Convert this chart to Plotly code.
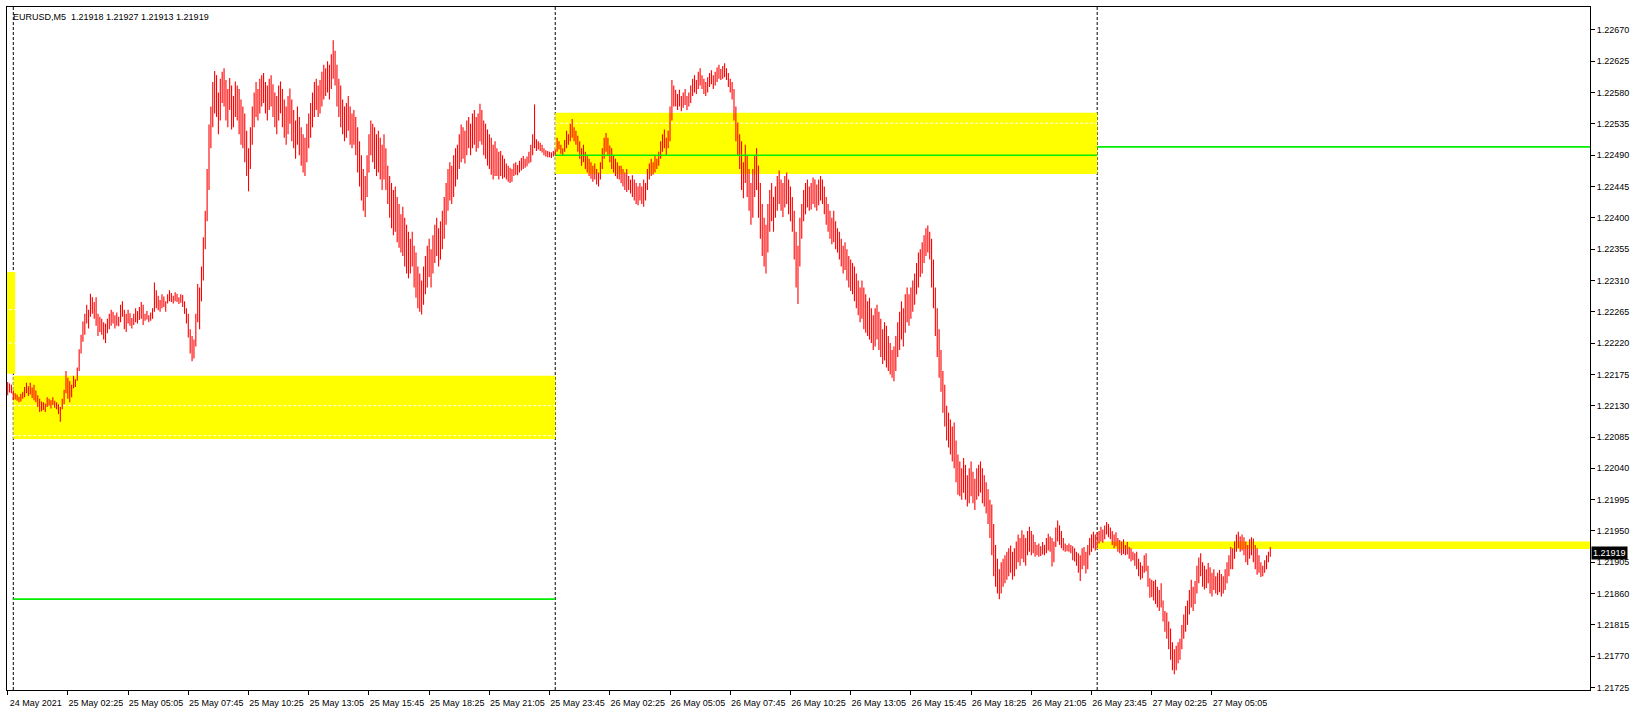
import plotly.graph_objects as go

symbol_title = "EURUSD,M5  1.21918 1.21927 1.21913 1.21919"
last_price = 1.21919

# M5 bars, index 0 = 24 May 23:45 (highs / lows)
bar_high = [
1.22164,1.22162,1.22160,1.22152,1.22148,1.22146,1.22143,1.22147,
1.22150,1.22157,1.22163,1.22158,1.22163,1.22156,1.22160,1.22152,
1.22145,1.22140,1.22136,1.22135,1.22133,1.22142,1.22140,1.22138,
1.22142,1.22137,1.22135,1.22132,1.22128,1.22140,1.22153,1.22180,
1.22170,1.22165,1.22160,1.22173,1.22168,1.22185,1.22211,1.22232,
1.22251,1.22262,1.22275,1.22268,1.22291,1.22286,1.22279,1.22286,
1.22262,1.22258,1.22255,1.22250,1.22248,1.22255,1.22262,1.22268,
1.22265,1.22260,1.22264,1.22258,1.22275,1.22280,1.22268,1.22262,
1.22268,1.22263,1.22256,1.22262,1.22270,1.22266,1.22272,1.22279,
1.22275,1.22262,1.22266,1.22260,1.22264,1.22270,1.22307,1.22296,
1.22288,1.22282,1.22290,1.22287,1.22280,1.22290,1.22296,1.22292,
1.22288,1.22293,1.22291,1.22286,1.22290,1.22289,1.22280,1.22270,
1.22262,1.22240,1.22230,1.22225,1.22262,1.22305,1.22300,1.22330,
1.22372,1.22410,1.22470,1.22534,1.22560,1.22595,1.22611,1.22605,
1.22580,1.22600,1.22610,1.22615,1.22598,1.22585,1.22601,1.22590,
1.22575,1.22596,1.22590,1.22585,1.22570,1.22560,1.22550,1.22525,
1.22500,1.22530,1.22560,1.22580,1.22595,1.22585,1.22600,1.22605,
1.22608,1.22595,1.22590,1.22600,1.22605,1.22592,1.22580,1.22575,
1.22590,1.22596,1.22585,1.22570,1.22560,1.22575,1.22586,1.22570,
1.22555,1.22540,1.22560,1.22545,1.22530,1.22520,1.22515,1.22535,
1.22550,1.22565,1.22580,1.22595,1.22600,1.22590,1.22598,1.22610,
1.22620,1.22615,1.22625,1.22620,1.22635,1.22655,1.22640,1.22620,
1.22600,1.22590,1.22570,1.22560,1.22565,1.22575,1.22560,1.22550,
1.22555,1.22545,1.22530,1.22510,1.22490,1.22470,1.22460,1.22490,
1.22520,1.22540,1.22535,1.22530,1.22520,1.22525,1.22515,1.22505,
1.22520,1.22500,1.22475,1.22460,1.22450,1.22440,1.22445,1.22430,
1.22420,1.22405,1.22416,1.22400,1.22390,1.22380,1.22370,1.22380,
1.22360,1.22350,1.22330,1.22320,1.22310,1.22330,1.22345,1.22360,
1.22370,1.22355,1.22375,1.22390,1.22400,1.22385,1.22395,1.22410,
1.22430,1.22450,1.22470,1.22480,1.22475,1.22490,1.22500,1.22505,
1.22520,1.22534,1.22530,1.22525,1.22540,1.22545,1.22535,1.22550,
1.22555,1.22545,1.22550,1.22564,1.22555,1.22540,1.22535,1.22527,
1.22520,1.22515,1.22505,1.22510,1.22500,1.22495,1.22496,1.22490,
1.22485,1.22478,1.22475,1.22472,1.22470,1.22478,1.22480,1.22476,
1.22482,1.22486,1.22489,1.22485,1.22488,1.22495,1.22505,1.22520,
1.22563,1.22513,1.22510,1.22508,1.22505,1.22500,1.22497,1.22496,
1.22495,1.22494,1.22496,1.22498,1.22515,1.22510,1.22505,1.22500,
1.22512,1.22525,1.22520,1.22535,1.22542,1.22530,1.22525,1.22518,
1.22510,1.22500,1.22505,1.22495,1.22489,1.22485,1.22480,1.22475,
1.22478,1.22470,1.22465,1.22480,1.22500,1.22515,1.22522,1.22515,
1.22504,1.22500,1.22490,1.22485,1.22480,1.22475,1.22475,1.22470,
1.22465,1.22470,1.22460,1.22455,1.22461,1.22455,1.22450,1.22445,
1.22450,1.22445,1.22455,1.22450,1.22470,1.22478,1.22485,1.22480,
1.22489,1.22485,1.22495,1.22510,1.22520,1.22527,1.22515,1.22525,
1.22560,1.22598,1.22590,1.22584,1.22578,1.22584,1.22575,1.22580,
1.22585,1.22575,1.22580,1.22590,1.22600,1.22605,1.22598,1.22610,
1.22615,1.22605,1.22600,1.22595,1.22602,1.22608,1.22612,1.22605,
1.22610,1.22616,1.22620,1.22614,1.22618,1.22622,1.22615,1.22608,
1.22600,1.22595,1.22585,1.22560,1.22537,1.22520,1.22510,1.22480,
1.22505,1.22490,1.22470,1.22450,1.22470,1.22490,1.22500,1.22475,
1.22450,1.22420,1.22400,1.22390,1.22420,1.22440,1.22450,1.22430,
1.22445,1.22460,1.22468,1.22455,1.22450,1.22460,1.22465,1.22455,
1.22445,1.22430,1.22410,1.22380,1.22360,1.22400,1.22420,1.22440,
1.22450,1.22455,1.22445,1.22450,1.22458,1.22455,1.22448,1.22455,
1.22460,1.22455,1.22445,1.22430,1.22420,1.22410,1.22400,1.22410,
1.22395,1.22385,1.22380,1.22370,1.22360,1.22365,1.22355,1.22345,
1.22340,1.22335,1.22330,1.22320,1.22310,1.22300,1.22310,1.22300,
1.22290,1.22280,1.22285,1.22270,1.22260,1.22270,1.22275,1.22265,
1.22255,1.22240,1.22250,1.22245,1.22230,1.22220,1.22210,1.22215,
1.22230,1.22250,1.22265,1.22280,1.22270,1.22290,1.22300,1.22290,
1.22300,1.22310,1.22320,1.22335,1.22350,1.22355,1.22365,1.22375,
1.22385,1.22389,1.22380,1.22370,1.22340,1.22300,1.22270,1.22240,
1.22210,1.22180,1.22160,1.22130,1.22120,1.22110,1.22100,1.22106,
1.22080,1.22060,1.22050,1.22040,1.22055,1.22045,1.22030,1.22040,
1.22050,1.22035,1.22025,1.22040,1.22045,1.22050,1.22040,1.22030,
1.22020,1.22010,1.21995,1.21988,1.21960,1.21930,1.21910,1.21895,
1.21905,1.21910,1.21915,1.21920,1.21925,1.21929,1.21920,1.21925,
1.21935,1.21945,1.21940,1.21951,1.21945,1.21940,1.21950,1.21956,
1.21950,1.21945,1.21934,1.21930,1.21932,1.21928,1.21934,1.21930,
1.21940,1.21946,1.21942,1.21940,1.21935,1.21955,1.21965,1.21958,
1.21950,1.21940,1.21932,1.21930,1.21932,1.21930,1.21928,1.21925,
1.21920,1.21918,1.21915,1.21925,1.21927,1.21920,1.21930,1.21940,
1.21945,1.21949,1.21945,1.21948,1.21950,1.21956,1.21952,1.21958,
1.21963,1.21960,1.21955,1.21950,1.21945,1.21948,1.21940,1.21937,
1.21935,1.21938,1.21930,1.21934,1.21927,1.21925,1.21920,1.21918,
1.21920,1.21910,1.21905,1.21900,1.21915,1.21918,1.21900,1.21882,
1.21880,1.21878,1.21880,1.21870,1.21865,1.21875,1.21850,1.21835,
1.21833,1.21820,1.21810,1.21790,1.21780,1.21785,1.21790,1.21795,
1.21815,1.21830,1.21842,1.21850,1.21865,1.21880,1.21870,1.21878,
1.21900,1.21912,1.21918,1.21905,1.21900,1.21895,1.21904,1.21898,
1.21890,1.21895,1.21885,1.21890,1.21894,1.21888,1.21885,1.21895,
1.21905,1.21915,1.21927,1.21925,1.21935,1.21945,1.21949,1.21942,
1.21945,1.21941,1.21935,1.21930,1.21938,1.21941,1.21939,1.21930,
1.21925,1.21915,1.21905,1.21900,1.21908,1.21915,1.21920,1.21927,
]
bar_low = [
1.22145,1.22149,1.22148,1.22138,1.22139,1.22137,1.22135,1.22136,
1.22140,1.22142,1.22148,1.22144,1.22146,1.22141,1.22138,1.22135,
1.22128,1.22121,1.22122,1.22124,1.22121,1.22128,1.22130,1.22126,
1.22131,1.22127,1.22125,1.22118,1.22107,1.22125,1.22132,1.22148,
1.22140,1.22135,1.22142,1.22155,1.22157,1.22166,1.22180,1.22205,
1.22222,1.22232,1.22248,1.22241,1.22258,1.22262,1.22255,1.22245,
1.22230,1.22236,1.22232,1.22225,1.22220,1.22234,1.22240,1.22245,
1.22248,1.22241,1.22245,1.22244,1.22250,1.22258,1.22240,1.22236,
1.22248,1.22245,1.22241,1.22246,1.22250,1.22248,1.22253,1.22255,
1.22246,1.22252,1.22254,1.22250,1.22252,1.22255,1.22265,1.22270,
1.22267,1.22265,1.22270,1.22272,1.22265,1.22277,1.22280,1.22279,
1.22277,1.22280,1.22279,1.22276,1.22278,1.22272,1.22262,1.22248,
1.22228,1.22205,1.22194,1.22198,1.22215,1.22250,1.22240,1.22280,
1.22310,1.22355,1.22395,1.22440,1.22500,1.22530,1.22550,1.22545,
1.22520,1.22540,1.22565,1.22560,1.22540,1.22530,1.22555,1.22527,
1.22530,1.22545,1.22540,1.22520,1.22505,1.22500,1.22480,1.22460,
1.22438,1.22470,1.22505,1.22530,1.22545,1.22540,1.22550,1.22560,
1.22565,1.22550,1.22540,1.22555,1.22560,1.22545,1.22530,1.22520,
1.22540,1.22550,1.22530,1.22515,1.22505,1.22520,1.22535,1.22510,
1.22500,1.22485,1.22505,1.22490,1.22475,1.22465,1.22460,1.22480,
1.22500,1.22515,1.22530,1.22545,1.22555,1.22545,1.22550,1.22560,
1.22570,1.22575,1.22580,1.22570,1.22585,1.22600,1.22590,1.22560,
1.22545,1.22530,1.22520,1.22510,1.22515,1.22525,1.22505,1.22500,
1.22505,1.22490,1.22465,1.22445,1.22425,1.22410,1.22401,1.22430,
1.22465,1.22490,1.22480,1.22470,1.22460,1.22465,1.22455,1.22440,
1.22455,1.22440,1.22420,1.22400,1.22385,1.22375,1.22380,1.22365,
1.22357,1.22350,1.22345,1.22330,1.22320,1.22313,1.22320,1.22330,
1.22300,1.22285,1.22270,1.22265,1.22261,1.22275,1.22290,1.22300,
1.22315,1.22300,1.22320,1.22335,1.22345,1.22330,1.22340,1.22355,
1.22370,1.22390,1.22410,1.22425,1.22420,1.22430,1.22445,1.22455,
1.22470,1.22480,1.22485,1.22478,1.22490,1.22500,1.22490,1.22500,
1.22505,1.22495,1.22500,1.22510,1.22505,1.22490,1.22485,1.22475,
1.22470,1.22462,1.22455,1.22460,1.22460,1.22455,1.22460,1.22456,
1.22458,1.22455,1.22452,1.22450,1.22452,1.22460,1.22462,1.22461,
1.22465,1.22468,1.22470,1.22472,1.22474,1.22478,1.22480,1.22490,
1.22500,1.22496,1.22498,1.22496,1.22494,1.22490,1.22488,1.22487,
1.22487,1.22486,1.22488,1.22489,1.22495,1.22498,1.22492,1.22490,
1.22495,1.22500,1.22505,1.22510,1.22515,1.22510,1.22505,1.22495,
1.22485,1.22475,1.22480,1.22470,1.22465,1.22460,1.22456,1.22452,
1.22455,1.22448,1.22445,1.22455,1.22470,1.22485,1.22495,1.22490,
1.22480,1.22470,1.22465,1.22460,1.22456,1.22455,1.22450,1.22445,
1.22440,1.22437,1.22440,1.22435,1.22430,1.22425,1.22420,1.22418,
1.22425,1.22420,1.22416,1.22425,1.22440,1.22455,1.22460,1.22462,
1.22465,1.22470,1.22475,1.22485,1.22495,1.22500,1.22490,1.22500,
1.22510,1.22540,1.22560,1.22560,1.22555,1.22560,1.22553,1.22558,
1.22562,1.22555,1.22560,1.22565,1.22575,1.22580,1.22578,1.22585,
1.22590,1.22585,1.22578,1.22575,1.22580,1.22588,1.22592,1.22585,
1.22590,1.22595,1.22600,1.22598,1.22600,1.22602,1.22598,1.22588,
1.22580,1.22570,1.22540,1.22510,1.22490,1.22470,1.22440,1.22428,
1.22450,1.22430,1.22410,1.22390,1.22400,1.22430,1.22440,1.22400,
1.22370,1.22345,1.22330,1.22320,1.22350,1.22380,1.22395,1.22380,
1.22400,1.22410,1.22420,1.22410,1.22401,1.22415,1.22420,1.22405,
1.22395,1.22380,1.22340,1.22300,1.22276,1.22330,1.22370,1.22395,
1.22405,1.22415,1.22410,1.22412,1.22420,1.22415,1.22410,1.22418,
1.22425,1.22420,1.22405,1.22390,1.22380,1.22370,1.22362,1.22365,
1.22355,1.22350,1.22340,1.22330,1.22320,1.22325,1.22310,1.22300,
1.22295,1.22290,1.22280,1.22270,1.22260,1.22250,1.22255,1.22240,
1.22235,1.22230,1.22225,1.22220,1.22210,1.22215,1.22225,1.22210,
1.22200,1.22190,1.22195,1.22185,1.22180,1.22175,1.22170,1.22165,
1.22180,1.22200,1.22210,1.22225,1.22215,1.22235,1.22250,1.22245,
1.22255,1.22265,1.22275,1.22290,1.22300,1.22315,1.22320,1.22335,
1.22345,1.22350,1.22340,1.22300,1.22270,1.22230,1.22200,1.22170,
1.22150,1.22120,1.22100,1.22080,1.22070,1.22060,1.22050,1.22040,
1.22020,1.22002,1.22000,1.21995,1.22005,1.21995,1.21985,1.21990,
1.22000,1.21990,1.21980,1.21995,1.22000,1.22005,1.21990,1.21985,
1.21975,1.21960,1.21940,1.21915,1.21885,1.21870,1.21860,1.21852,
1.21860,1.21870,1.21875,1.21880,1.21885,1.21890,1.21880,1.21885,
1.21895,1.21905,1.21900,1.21910,1.21905,1.21900,1.21915,1.21920,
1.21915,1.21918,1.21913,1.21915,1.21913,1.21914,1.21916,1.21915,
1.21918,1.21922,1.21920,1.21899,1.21905,1.21927,1.21935,1.21930,
1.21925,1.21922,1.21920,1.21921,1.21920,1.21918,1.21908,1.21906,
1.21900,1.21890,1.21878,1.21895,1.21900,1.21889,1.21895,1.21915,
1.21920,1.21925,1.21922,1.21925,1.21932,1.21935,1.21933,1.21938,
1.21945,1.21941,1.21938,1.21930,1.21925,1.21928,1.21920,1.21918,
1.21915,1.21917,1.21915,1.21916,1.21910,1.21906,1.21908,1.21900,
1.21895,1.21885,1.21880,1.21882,1.21890,1.21892,1.21870,1.21854,
1.21855,1.21850,1.21845,1.21840,1.21835,1.21840,1.21820,1.21805,
1.21795,1.21780,1.21765,1.21750,1.21744,1.21750,1.21760,1.21765,
1.21780,1.21795,1.21805,1.21815,1.21830,1.21840,1.21835,1.21845,
1.21860,1.21875,1.21885,1.21870,1.21866,1.21868,1.21875,1.21860,
1.21856,1.21865,1.21860,1.21858,1.21862,1.21856,1.21860,1.21865,
1.21875,1.21885,1.21895,1.21895,1.21910,1.21920,1.21925,1.21920,
1.21922,1.21915,1.21905,1.21901,1.21910,1.21915,1.21905,1.21895,
1.21887,1.21890,1.21884,1.21885,1.21890,1.21895,1.21905,1.21913,
]

tick_index = [0, 32, 64, 96, 128, 160, 192, 224, 256, 288, 320,
              352, 384, 416, 448, 480, 512, 544, 576, 608, 640]
tick_text = ["24 May 2021", "25 May 02:25", "25 May 05:05", "25 May 07:45",
             "25 May 10:25", "25 May 13:05", "25 May 15:45", "25 May 18:25",
             "25 May 21:05", "25 May 23:45", "26 May 02:25", "26 May 05:05",
             "26 May 07:45", "26 May 10:25", "26 May 13:05", "26 May 15:45",
             "26 May 18:25", "26 May 21:05", "26 May 23:45", "27 May 02:25",
             "27 May 05:05"]

day_start = [3, 291, 579]          # bar index of 25, 26, 27 May 00:00
day_end = [291, 579, 900]
zone_top = [1.22173, 1.22551, 1.21935]
zone_bottom = [1.22082, 1.22463, 1.21924]
zone_dash = [[1.22130, 1.22087], [1.22536], []]
green_level = [1.21852, 1.22490, 1.22502]
prev_zone = (1.22176, 1.22322)
prev_zone_dash = [1.22268, 1.22220]

FONT = "Liberation Sans, Arial, sans-serif"

xs, ys = [], []
for i, (h, l) in enumerate(zip(bar_high, bar_low)):
    xs += [i, i, None]
    ys += [l, h, None]

fig = go.Figure()
fig.add_trace(go.Scatter(x=xs, y=ys, mode="lines",
                         line=dict(color="#ff0000", width=1.1),
                         hoverinfo="skip", showlegend=False))

shapes = []
# previous day's zone (partially visible)
shapes.append(dict(type="rect", xref="x", yref="y", x0=-2, x1=4,
                   y0=prev_zone[0], y1=prev_zone[1], fillcolor="#ffff00",
                   line=dict(width=0), layer="below"))
for lv in prev_zone_dash:
    shapes.append(dict(type="line", xref="x", yref="y", x0=-2, x1=4, y0=lv, y1=lv,
                       line=dict(color="white", width=1, dash="3px,2px"), layer="below"))
for k in range(3):
    shapes.append(dict(type="rect", xref="x", yref="y", x0=day_start[k], x1=day_end[k],
                       y0=zone_bottom[k], y1=zone_top[k], fillcolor="#ffff00",
                       line=dict(width=0), layer="below"))
    for lv in zone_dash[k]:
        shapes.append(dict(type="line", xref="x", yref="y", x0=day_start[k], x1=day_end[k],
                           y0=lv, y1=lv,
                           line=dict(color="white", width=1, dash="3px,2px"), layer="below"))
    shapes.append(dict(type="line", xref="x", yref="y", x0=day_start[k], x1=day_end[k],
                       y0=green_level[k], y1=green_level[k],
                       line=dict(color="#00ee00", width=1.6), layer="above"))
    shapes.append(dict(type="line", xref="x", yref="paper", x0=day_start[k], x1=day_start[k],
                       y0=0, y1=1, line=dict(color="black", width=1, dash="3px,2px"),
                       layer="below"))

fig.update_layout(
    width=1635, height=714,
    margin=dict(l=6, r=45, t=6, b=14),
    paper_bgcolor="white", plot_bgcolor="white",
    font=dict(family=FONT, size=9, color="black"),
    showlegend=False,
    shapes=shapes,
    xaxis=dict(range=[-0.35, 840.9], tickmode="array", tickvals=tick_index,
               ticktext=tick_text, ticks="outside", ticklen=4, tickcolor="black",
               ticklabelshift=28, showgrid=False, zeroline=False,
               showline=True, mirror=True, linecolor="black", linewidth=1,
               tickfont=dict(family=FONT, size=9, color="black")),
    yaxis=dict(range=[1.2172146, 1.2270295], side="right", tick0=1.21725, dtick=0.00045,
               tickformat=".5f", ticks="outside", ticklen=4, tickcolor="black",
               showgrid=False, zeroline=False, showline=True, mirror=True,
               linecolor="black", linewidth=1,
               tickfont=dict(family=FONT, size=9, color="black")),
    annotations=[
        dict(xref="paper", yref="paper", x=0, y=1, xanchor="left", yanchor="top",
             xshift=4, yshift=-3, text=symbol_title, showarrow=False,
             font=dict(family=FONT, size=9, color="black")),
        dict(xref="paper", yref="y", x=1, y=last_price, xanchor="left", yanchor="middle",
             xshift=1, text=f"{last_price:.5f}", showarrow=False, bgcolor="black",
             borderpad=1, font=dict(family=FONT, size=9, color="white")),
    ],
)

fig.write_html(
    "out.html",
    config={"displayModeBar": False},
    post_script="document.body.style.margin='0px';document.body.style.overflow='hidden';",
)
